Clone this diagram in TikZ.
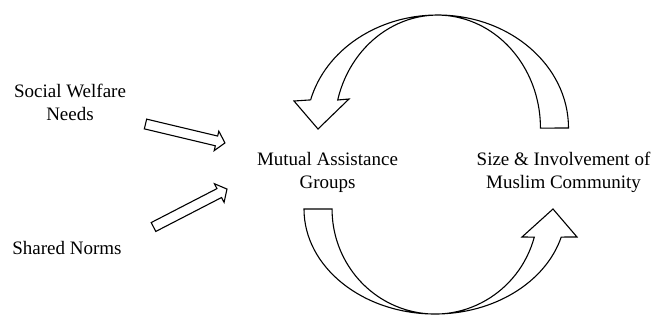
\documentclass[tikz,border=0pt]{standalone}
\usepackage{fontspec}
\setmainfont{Liberation Serif}
\newfontfamily\lblfont{Liberation Serif}
\begin{document}
\begin{tikzpicture}[x=1pt,y=1pt,
  lbl/.style={align=center,inner sep=0pt,font=\lblfont\fontsize{19}{23}\selectfont},
  blockarrow/.style={draw=black,line width=1.1pt,fill=white,line join=miter}]
\useasboundingbox (0,0) rectangle (653,325);
% labels
\node[lbl] (swn) at (70,222.5) {Social Welfare\\Needs};
\node[lbl] (sn) at (67,77) {Shared Norms};
\node[lbl] (mag) at (327.5,153) {Mutual Assistance\\Groups};
\node[lbl] (sim) at (563.5,153) {Size \& Involvement of\\Muslim Community};
% straight block arrows
\draw[blockarrow,shift={(145.5,201)},rotate=-13.4]
  (0,5) -- (73,5) -- (73,10) -- (81.7,0) -- (73,-10) -- (73,-5) -- (0,-5) -- cycle;
\draw[blockarrow,shift={(153.5,98)},rotate=27.3]
  (0,5) -- (74,5) -- (74,10.5) -- (82.7,0) -- (74,-10.5) -- (74,-5) -- (0,-5) -- cycle;
% top curved arrow (from community to groups)
\draw[blockarrow]
  (568.5,197) arc[start angle=0,end angle=165.6,x radius=131,y radius=113]
  -- (294,224) -- (318,196) -- (349,226) -- (337.7,225)
  arc[start angle=165.6,end angle=0,x radius=103,y radius=113] -- cycle;
% bottom curved arrow (from groups to community)
\draw[blockarrow]
  (304,116) arc[start angle=180,end angle=344.5,x radius=131,y radius=105]
  -- (577,88) -- (553,116) -- (522,88) -- (534.3,87.9)
  arc[start angle=344.5,end angle=180,x radius=103,y radius=105] -- cycle;
\end{tikzpicture}
\end{document}
